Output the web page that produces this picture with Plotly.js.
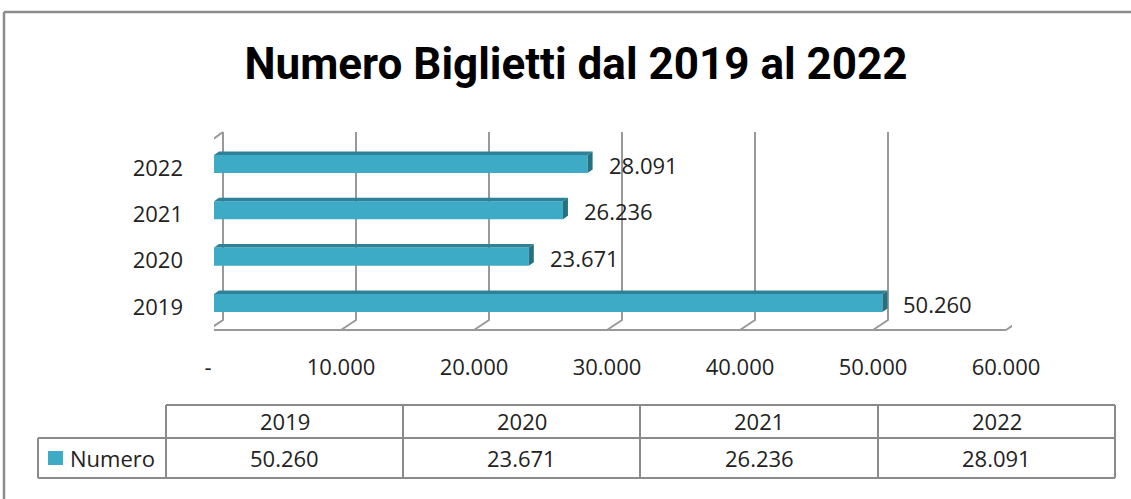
<!DOCTYPE html>
<html>
<head>
<meta charset="utf-8">
<script src="https://cdn.plot.ly/plotly-3.0.1.min.js"></script>
<style>
  html, body { margin: 0; padding: 0; background: #ffffff; }
  #chart { width: 1131px; height: 499px; }
</style>
</head>
<body>
<div id="chart"></div>
<script>
// chart data
const years = ['2019', '2020', '2021', '2022'];
const tickets = [50260, 23671, 26236, 28091];
const xTickValues = [0, 10000, 20000, 30000, 40000, 50000, 60000];
const xTickLabels = ['-', '10.000', '20.000', '30.000', '40.000', '50.000', '60.000'];
const seriesName = 'Numero';

const W = 1131, H = 499;
const plotLeft = 214, plotRight = 1012, plotTop = 132, plotBottom = 330;
const xMax = 60000;
const yRange = [-0.583, 3.69];

const barColor = '#3DAAC6';
const topColor = '#2E8196';
const sideColor = '#27707F';
const gridColor = '#999999';
const textColor = '#222222';
const tableColor = '#8A8A8A';
const font = 'Open Sans, Lato, sans-serif';
const fontSize = 22;

// pixel helpers (layout only)
const unitsPerPx = xMax / (plotRight - plotLeft);
const catPerPx = (yRange[1] - yRange[0]) / (plotBottom - plotTop);
const px2x = px => (px - plotLeft) / (plotRight - plotLeft);
const py2y = py => (plotBottom - py) / (plotBottom - plotTop);

function fmtNum(v) {
	const s = String(v);
	return s.length > 3 ? s.slice(0, -3) + '.' + s.slice(-3) : s;
}

const shapes = [];

// back wall gridlines + floor
const backDx = 9 * unitsPerPx;
const frontDx = -6 * unitsPerPx;
const backY = py2y(320);
xTickValues.forEach(v => {
	shapes.push({
		type: 'path', xref: 'x', yref: 'paper', layer: 'below',
		path: `M ${v + backDx},1 L ${v + backDx},${backY} L ${v + frontDx},0`,
		line: { color: gridColor, width: 2 }
	});
});
// left wall
shapes.push({
	type: 'path', xref: 'x', yref: 'paper', layer: 'below',
	path: `M ${backDx},1 L ${frontDx},${py2y(143)} L ${frontDx},0 L ${xMax + frontDx},0`,
	line: { color: gridColor, width: 2 }
});

// 3D faces of the bars
const halfW = 0.195;
const depthX = 5 * unitsPerPx;
const depthY = 3.5 * catPerPx;
tickets.forEach((v, i) => {
	shapes.push({
		type: 'path', xref: 'x', yref: 'y', layer: 'above',
		path: `M 0,${i + halfW} L ${v},${i + halfW} L ${v + depthX},${i + halfW + depthY} L ${depthX},${i + halfW + depthY} Z`,
		fillcolor: topColor, line: { width: 0 }
	});
	shapes.push({
		type: 'path', xref: 'x', yref: 'y', layer: 'above',
		path: `M ${v},${i - halfW} L ${v},${i + halfW} L ${v + depthX},${i + halfW + depthY} L ${v + depthX},${i - halfW + depthY} Z`,
		fillcolor: sideColor, line: { width: 0 }
	});
});

// outer frame
shapes.push({ type: 'line', xref: 'paper', yref: 'paper', x0: px2x(4), x1: px2x(1135), y0: py2y(12), y1: py2y(12), line: { color: '#8C8C8C', width: 2.5 } });
shapes.push({ type: 'line', xref: 'paper', yref: 'paper', x0: px2x(4), x1: px2x(4), y0: py2y(12), y1: py2y(505), line: { color: '#8C8C8C', width: 2.5 } });

// data table
const colEdges = [166, 403, 640, 878, 1115];
const rowTop = 405, rowMid = 438, rowBottom = 478, legendLeft = 38;
const tl = (x0, y0, x1, y1) => shapes.push({
	type: 'line', xref: 'paper', yref: 'paper',
	x0: px2x(x0), x1: px2x(x1), y0: py2y(y0), y1: py2y(y1),
	line: { color: tableColor, width: 2 }
});
tl(colEdges[0], rowTop, colEdges[4], rowTop);
tl(legendLeft, rowMid, colEdges[4], rowMid);
tl(legendLeft, rowBottom, colEdges[4], rowBottom);
tl(legendLeft, rowMid, legendLeft, rowBottom);
colEdges.forEach(x => tl(x, rowTop, x, rowBottom));
// legend key
shapes.push({ type: 'rect', xref: 'paper', yref: 'paper', x0: px2x(48), x1: px2x(63), y0: py2y(451), y1: py2y(465), fillcolor: barColor, line: { width: 0 } });

const annotations = [];
// value labels next to the bars
tickets.forEach((v, i) => {
	annotations.push({
		x: v, y: i, xref: 'x', yref: 'y', text: fmtNum(v), showarrow: false,
		xanchor: 'left', yanchor: 'middle', xshift: 19, yshift: -1,
		font: { family: font, size: fontSize, color: textColor }
	});
});
// table texts
years.forEach((yr, i) => {
	const cx = px2x((colEdges[i] + colEdges[i + 1]) / 2);
	annotations.push({ x: cx, y: py2y(421), xref: 'paper', yref: 'paper', text: yr, showarrow: false, xanchor: 'center', yanchor: 'middle', font: { family: font, size: fontSize, color: textColor } });
	annotations.push({ x: cx, y: py2y(458), xref: 'paper', yref: 'paper', text: fmtNum(tickets[i]), showarrow: false, xanchor: 'center', yanchor: 'middle', font: { family: font, size: fontSize, color: textColor } });
});
annotations.push({ x: px2x(68), y: py2y(458), xref: 'paper', yref: 'paper', text: seriesName, showarrow: false, xanchor: 'left', yanchor: 'middle', font: { family: font, size: fontSize, color: textColor } });

const data = [{
	type: 'bar',
	orientation: 'h',
	x: tickets,
	y: years,
	width: 0.39,
	marker: { color: barColor, line: { width: 0 } },
	name: seriesName,
	hoverinfo: 'none'
}];

const layout = {
	width: W, height: H,
	margin: { l: plotLeft, r: W - plotRight, t: plotTop, b: H - plotBottom, pad: 0 },
	paper_bgcolor: '#ffffff',
	plot_bgcolor: 'rgba(0,0,0,0)',
	showlegend: false,
	title: {
		text: 'Numero Biglietti dal 2019 al 2022',
		x: 576 / W, xref: 'container', xanchor: 'center',
		y: 1 - 64 / H, yref: 'container', yanchor: 'middle',
		font: { family: 'Roboto, Open Sans, sans-serif', size: 44, weight: 'bold', color: '#000000' }
	},
	xaxis: {
		range: [0, xMax],
		tickvals: xTickValues, ticktext: xTickLabels,
		showgrid: false, zeroline: false, showline: false,
		ticks: '', ticklabelstandoff: 22, ticklabelshift: -6,
		tickfont: { family: font, size: fontSize, color: textColor }
	},
	yaxis: {
		type: 'category', categoryarray: years,
		range: yRange,
		showgrid: false, zeroline: false, showline: false,
		ticks: '', ticklabelstandoff: 30, ticklabelshift: 4,
		tickfont: { family: font, size: fontSize, color: textColor }
	},
	shapes: shapes,
	annotations: annotations
};

Plotly.newPlot('chart', data, layout, { staticPlot: true, displayModeBar: false });
</script>
</body>
</html>
